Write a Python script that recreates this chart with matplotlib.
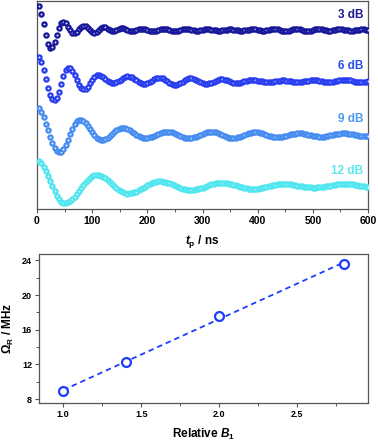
import numpy as np
import matplotlib
matplotlib.use("Agg")
import matplotlib.pyplot as plt
from matplotlib.ticker import MultipleLocator

plt.rcParams['font.family'] = ['Liberation Sans', 'DejaVu Sans']
plt.rcParams['font.weight'] = 'bold'
plt.rcParams['mathtext.fontset'] = 'custom'
plt.rcParams['mathtext.rm'] = 'Liberation Sans:bold'
plt.rcParams['mathtext.it'] = 'Liberation Sans:bold:italic'
plt.rcParams['mathtext.bf'] = 'Liberation Sans:bold'

# ---------------- data (top panel: Rabi nutation traces, arbitrary units, offset per trace) -------------
pulse_len_step_ns = 4
labels = ['3 dB', '6 dB', '9 dB', '12 dB']

trace_3dB = [
    5.8, 13.6, 24.3, 35.4, 44.2, 48.3,
    47.3, 42.3, 35.0, 27.7, 22.7,
    21.6, 23.3, 26.6, 30.2, 32.8,
    33.4, 32.1, 29.5, 26.9, 25.6,
    26.0, 27.9, 30.4, 32.3,
    32.8, 31.8, 29.9, 28.0, 27.0,
    27.4, 28.8, 30.5, 31.5,
    31.3, 30.3, 29.1, 28.3,
    28.3, 29.1, 30.1, 30.9,
    31.0, 30.6, 30.0, 29.4, 29.1,
    29.1, 29.4, 30.0, 30.6, 31.0, 31.0, 30.6, 30.0, 29.4, 29.1,
    29.1, 29.4, 30.0, 30.6, 31.0, 31.0, 30.6, 30.0, 29.4, 29.1,
    29.2, 29.5, 30.0, 30.5, 30.8, 30.8, 30.5, 30.0, 29.5, 29.2,
    29.4, 29.6, 30.0, 30.4, 30.6, 30.6, 30.4, 30.0, 29.6, 29.4,
    29.4, 29.6, 30.0, 30.4, 30.6, 30.6, 30.4, 30.0, 29.6, 29.4,
    29.2, 29.5, 30.0, 30.5, 30.8, 30.8, 30.5, 30.0, 29.5, 29.2,
    29.1, 29.4, 30.0, 30.6, 31.0, 31.0, 30.6, 30.0, 29.4, 29.1,
    29.1, 29.4, 30.0, 30.6, 31.0, 31.0, 30.6, 30.0, 29.4, 29.1,
    29.2, 29.5, 30.0, 30.5, 30.8, 30.8, 30.5, 30.0, 29.5, 29.2,
    29.4, 29.6, 30.0, 30.4, 30.6, 30.6, 30.4, 30.0, 29.6, 29.4,
    29.4, 29.6, 30.0,
]

trace_6dB = [
    56.8, 62.1, 69.9, 78.9, 87.8, 95.0, 99.5,
    100.4, 97.6, 91.7, 84.0, 76.3, 70.4, 67.6,
    68.2, 71.0, 75.3, 80.4, 85.1, 88.3, 89.5,
    88.7, 86.6, 83.5, 80.2, 77.3, 75.4,
    75.0, 75.7, 77.0, 78.8, 80.6, 82.1, 82.9,
    82.9, 82.2, 81.0, 79.6, 78.1, 77.0, 76.5,
    76.7, 77.5, 78.9, 80.5, 82.0, 83.2, 83.9,
    83.9, 83.3, 82.2, 80.9, 79.5, 78.4, 77.8,
    77.8, 78.5, 79.8, 81.4, 82.9, 84.2, 84.9,
    84.9, 84.3, 83.1, 81.7, 80.2, 79.0, 78.4,
    78.4, 78.9, 79.9, 81.2, 82.4, 83.4, 83.9,
    83.9, 83.5, 82.7, 81.7, 80.6, 79.8, 79.4,
    79.4, 79.7, 80.4, 81.2, 82.0, 82.6, 83.0,
    83.0, 82.7, 82.2, 81.5, 80.9, 80.3, 80.0,
    80.0, 80.2, 80.6, 81.0, 81.4, 81.8, 82.0,
    82.0, 81.8, 81.6, 81.2, 80.9, 80.6, 80.4,
    80.4, 80.6, 80.9, 81.2, 81.6, 81.8, 82.0,
    82.0, 81.8, 81.5, 81.1, 80.7, 80.4, 80.2,
    80.2, 80.4, 80.8, 81.3, 81.7, 82.1, 82.3,
    82.3, 82.0, 81.5, 81.0, 80.4, 79.9, 79.6,
    79.6, 79.9, 80.4, 81.1, 81.7, 82.2, 82.5,
    82.5, 82.3, 81.9, 81.5,
]

trace_9dB = [
    107.9, 112.0, 117.4, 123.7, 130.4, 137.1, 143.0, 147.8, 151.0, 152.4,
    151.6, 148.9, 144.8, 139.7, 134.2, 128.9, 124.5, 121.4, 120.1,
    120.3, 121.5, 123.5, 126.2, 129.2, 132.3, 135.2, 137.6, 139.2, 140.0,
    139.8, 139.0, 137.6, 135.8, 133.9, 131.9, 130.1, 128.7, 127.9,
    127.7, 128.1, 129.0, 130.2, 131.8, 133.4, 135.0, 136.4, 137.5, 138.2,
    138.3, 138.1, 137.5, 136.7, 135.8, 134.7, 133.7, 132.9, 132.2, 131.8,
    131.7, 132.0, 132.5, 133.3, 134.2, 135.3, 136.3, 137.1, 137.8, 138.2,
    138.3, 138.1, 137.5, 136.7, 135.8, 134.7, 133.7, 132.9, 132.2, 131.8,
    131.7, 132.0, 132.5, 133.3, 134.2, 135.2, 136.2, 137.1, 137.7, 138.1,
    138.2, 138.0, 137.5, 136.8, 135.9, 135.0, 134.1, 133.3, 132.7, 132.4,
    132.3, 132.5, 132.9, 133.5, 134.2, 135.0, 135.8, 136.4, 136.9, 137.2,
    137.3, 137.2, 136.8, 136.3, 135.8, 135.1, 134.5, 134.0, 133.6, 133.4,
    133.3, 133.4, 133.7, 134.1, 134.6, 135.1, 135.7, 136.1, 136.5, 136.7,
    136.7, 136.6, 136.3, 135.9, 135.4, 134.9, 134.4, 133.9, 133.6, 133.4,
    133.3, 133.4, 133.7, 134.0, 134.5, 134.9, 135.4, 135.8, 136.1, 136.3,
    136.3, 136.2,
]

trace_12dB = [
    160.9, 163.3, 166.8, 171.1, 176.1, 181.3, 186.5, 191.4, 195.7, 199.2, 201.6, 202.9,
    202.9, 202.3, 201.0, 199.2, 196.9, 194.2, 191.3, 188.2, 185.3, 182.5, 179.9, 177.9, 176.3, 175.3, 175.0,
    175.2, 175.9, 177.0, 178.4, 180.1, 182.0, 184.0, 186.0, 188.0, 189.7, 191.2, 192.4, 193.2, 193.5,
    193.4, 193.1, 192.4, 191.6, 190.5, 189.3, 188.0, 186.7, 185.4, 184.2, 183.2, 182.4, 181.8, 181.5,
    181.5, 181.7, 182.2, 182.8, 183.5, 184.4, 185.3, 186.2, 187.2, 188.0, 188.8, 189.4, 189.8, 190.0,
    190.0, 189.8, 189.4, 188.9, 188.3, 187.6, 186.8, 185.9, 185.2, 184.4, 183.8, 183.3, 182.9, 182.7,
    182.7, 182.9, 183.2, 183.6, 184.2, 184.8, 185.5, 186.2, 186.9, 187.5, 188.1, 188.5, 188.8, 189.0,
    189.0, 188.9, 188.6, 188.3, 187.8, 187.3, 186.8, 186.2, 185.7, 185.2, 184.7, 184.4, 184.1, 184.0,
    184.0, 184.1, 184.3, 184.5, 184.8, 185.2, 185.6, 186.0, 186.4, 186.8, 187.1, 187.3, 187.5, 187.6,
    187.6, 187.5, 187.3, 187.1, 186.8, 186.4, 186.0, 185.6, 185.2, 184.8, 184.5, 184.3, 184.1, 184.0,
    184.0, 184.1, 184.3, 184.5, 184.8, 185.2, 185.6, 186.0, 186.3, 186.7, 187.0,
]

# ---------------- data (bottom panel) ----------------
relative_B1 = [1.0, 1.4, 2.0, 2.8]
rabi_freq_MHz = [8.9, 12.3, 17.6, 23.6]

# ---------------- styling ----------------
trace_colors = ['#16169a', '#283cf0', '#468cf0', '#50e6f0']
label_colors = ['#1b1b8f', '#2850f0', '#4a9af0', '#5ce8ee']
label_y = [15, 66, 119, 171]
spine_color = '#555555'

fig = plt.figure(figsize=(3.78, 4.45), dpi=100)

# ---- top panel ----
ax1 = fig.add_axes([37/378, 1 - 209/445, 331/378, 208/445])
traces = [trace_3dB, trace_6dB, trace_9dB, trace_12dB]
for tr, col in zip(traces[::-1], trace_colors[::-1]):
    t = pulse_len_step_ns * np.arange(1, len(tr) + 1)
    ax1.plot(t, tr, linestyle='none', marker='o', ms=3.0, mew=1.6,
             mec=col, mfc='#f4f8ff', zorder=3)
for lab, col, yy in zip(labels, label_colors, label_y):
    ax1.text(591, yy, lab, color=col, fontsize=8.5, fontweight='bold',
             ha='right', va='center')
ax1.set_xlim(0, 600)
ax1.set_ylim(209, 1)
ax1.set_yticks([])
ax1.xaxis.set_major_locator(MultipleLocator(100))
ax1.xaxis.set_minor_locator(MultipleLocator(50))
ax1.tick_params(axis='x', which='major', direction='out', length=3, width=0.8,
                labelsize=7.5, pad=2, color=spine_color)
ax1.tick_params(axis='x', which='minor', direction='out', length=2, width=0.7,
                color=spine_color)
for lbl in ax1.get_xticklabels():
    lbl.set_fontweight('bold')
for s in ax1.spines.values():
    s.set_color(spine_color)
    s.set_linewidth(0.9)
ax1.set_xlabel(r'$\it{t}_{\rm p}$ / ns', fontsize=8.5, fontweight='bold', labelpad=5)

# ---- bottom panel ----
ax2 = fig.add_axes([39/378, 1 - 403/445, 329/378, 149/445])
coef = np.polyfit(relative_B1, rabi_freq_MHz, 1)
xfit = np.array([min(relative_B1), max(relative_B1)])
ax2.plot(xfit, np.polyval(coef, xfit), linestyle=(0, (3, 2.2)), color='#1e3cff',
         lw=1.3, zorder=2)
ax2.plot(relative_B1, rabi_freq_MHz, linestyle='none', marker='o', ms=6.4, mew=1.6,
         mec='#1e3cff', mfc='white', zorder=3)
ax2.set_xlim(0.845, 2.953)
ax2.set_ylim(7.55, 24.75)
ax2.xaxis.set_major_locator(MultipleLocator(0.5))
ax2.xaxis.set_minor_locator(MultipleLocator(0.25))
ax2.yaxis.set_major_locator(MultipleLocator(4))
ax2.yaxis.set_minor_locator(MultipleLocator(2))
ax2.tick_params(which='major', direction='out', length=3, width=0.8, labelsize=6.5,
                pad=2, color=spine_color)
ax2.tick_params(which='minor', direction='out', length=2, width=0.7, color=spine_color)
for lbl in ax2.get_xticklabels() + ax2.get_yticklabels():
    lbl.set_fontweight('bold')
for s in ax2.spines.values():
    s.set_color(spine_color)
    s.set_linewidth(0.9)
ax2.set_xlabel(r'Relative $\it{B}_{\rm 1}$', fontsize=8.5, fontweight='bold', labelpad=6)
ax2.set_ylabel(r'$\Omega_{\rm R}$ / MHz', fontsize=8.5, fontweight='bold', labelpad=4)

fig.savefig('out.png', dpi=100)
